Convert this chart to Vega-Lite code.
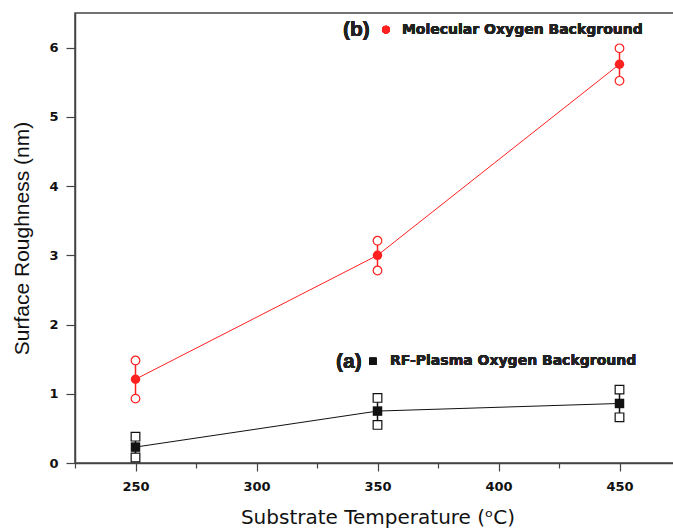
{
  "$schema": "https://vega.github.io/schema/vega-lite/v6.json",
  "width": 605,
  "height": 450,
  "autosize": {"type": "none"},
  "padding": {"left": 75, "top": 13, "right": 0, "bottom": 66},
  "background": "white",
  "config": {
    "view": {"stroke": "#444", "strokeWidth": 1.5},
    "axis": {
      "grid": false,
      "domainColor": "#444",
      "domainWidth": 1.5,
      "tickColor": "#444",
      "tickWidth": 1.2,
      "labelColor": "#111",
      "labelFont": "DejaVu Sans",
      "labelFontWeight": "bold",
      "labelFontSize": 13,
      "labelOverlap": false,
      "labelFlush": false,
      "titleColor": "#111",
      "titleFontWeight": "normal"
    }
  },
  "data": {
    "values": [
      {"series": "Molecular", "T": 250, "mean": 1.21, "lo": 0.93, "hi": 1.48},
      {"series": "Molecular", "T": 350, "mean": 3.0, "lo": 2.78, "hi": 3.21},
      {"series": "Molecular", "T": 450, "mean": 5.76, "lo": 5.52, "hi": 5.99},
      {"series": "RF", "T": 250, "mean": 0.23, "lo": 0.08, "hi": 0.38},
      {"series": "RF", "T": 350, "mean": 0.75, "lo": 0.55, "hi": 0.94},
      {"series": "RF", "T": 450, "mean": 0.86, "lo": 0.66, "hi": 1.06}
    ]
  },
  "encoding": {
    "x": {
      "field": "T",
      "type": "quantitative",
      "scale": {"domain": [225, 475], "nice": false, "zero": false},
      "axis": {
        "values": [225, 250, 275, 300, 325, 350, 375, 400, 425, 450, 475],
        "labelExpr": "datum.value % 50 === 0 ? format(datum.value, 'd') : ''",
        "tickSize": {"condition": {"test": "datum.value % 50 === 0", "value": 8}, "value": 5},
        "labelPadding": 9,
        "title": "Substrate Temperature (ᵒC)",
        "titleFont": "DejaVu Sans",
        "titleFontSize": 20,
        "titlePadding": 14
      }
    },
    "color": {
      "field": "series",
      "type": "nominal",
      "scale": {"domain": ["Molecular", "RF"], "range": ["#ff2020", "#111111"]},
      "legend": null
    },
    "shape": {
      "field": "series",
      "type": "nominal",
      "scale": {"domain": ["Molecular", "RF"], "range": ["circle", "square"]},
      "legend": null
    }
  },
  "layer": [
    {
      "mark": {"type": "rule", "strokeWidth": 1.5},
      "encoding": {
        "y": {
          "field": "lo",
          "type": "quantitative",
          "scale": {"domain": [0, 6.5], "nice": false},
          "axis": {
            "values": [0, 0.5, 1, 1.5, 2, 2.5, 3, 3.5, 4, 4.5, 5, 5.5, 6, 6.5],
            "labelExpr": "datum.value % 1 === 0 ? format(datum.value, 'd') : ''",
            "tickSize": {"condition": {"test": "datum.value % 1 === 0", "value": 9}, "value": 6},
            "labelPadding": 8,
            "title": "Surface Roughness (nm)",
            "titleFont": "Liberation Sans",
            "titleFontSize": 21,
            "titlePadding": 16
          }
        },
        "y2": {"field": "hi"}
      }
    },
    {
      "mark": {"type": "line", "strokeWidth": 1},
      "encoding": {"y": {"field": "mean", "type": "quantitative"}}
    },
    {
      "mark": {"type": "point", "filled": false, "fill": "white", "size": 75, "strokeWidth": 1.2, "opacity": 1},
      "encoding": {"y": {"field": "lo", "type": "quantitative"}}
    },
    {
      "mark": {"type": "point", "filled": false, "fill": "white", "size": 75, "strokeWidth": 1.2, "opacity": 1},
      "encoding": {"y": {"field": "hi", "type": "quantitative"}}
    },
    {
      "mark": {"type": "point", "filled": true, "size": 90, "opacity": 1},
      "encoding": {"y": {"field": "mean", "type": "quantitative"}}
    },
    {
      "mark": {"type": "text", "text": "(b)", "align": "left", "baseline": "middle", "font": "Liberation Sans", "fontWeight": "bold", "fontSize": 21},
      "encoding": {"x": {"datum": 335.7}, "y": {"datum": 6.25}, "color": {"value": "#222"}, "shape": {"value": "circle"}}
    },
    {
      "mark": {"type": "point", "filled": true, "size": 60, "opacity": 1},
      "encoding": {"x": {"datum": 353.5}, "y": {"datum": 6.26}, "color": {"value": "#ff2020"}, "shape": {"value": "circle"}}
    },
    {
      "mark": {"type": "text", "text": "Molecular Oxygen Background", "align": "left", "baseline": "middle", "font": "DejaVu Sans", "fontWeight": "bold", "fontSize": 14},
      "encoding": {"x": {"datum": 360.1}, "y": {"datum": 6.26}, "color": {"value": "#222"}, "shape": {"value": "circle"}}
    },
    {
      "mark": {"type": "text", "text": "(a)", "align": "left", "baseline": "middle", "font": "Liberation Sans", "fontWeight": "bold", "fontSize": 21},
      "encoding": {"x": {"datum": 332.9}, "y": {"datum": 1.46}, "color": {"value": "#222"}, "shape": {"value": "circle"}}
    },
    {
      "mark": {"type": "point", "filled": true, "size": 50, "opacity": 1},
      "encoding": {"x": {"datum": 348.1}, "y": {"datum": 1.47}, "color": {"value": "#111"}, "shape": {"value": "square"}}
    },
    {
      "mark": {"type": "text", "text": "RF-Plasma Oxygen Background", "align": "left", "baseline": "middle", "font": "DejaVu Sans", "fontWeight": "bold", "fontSize": 14},
      "encoding": {"x": {"datum": 355.2}, "y": {"datum": 1.47}, "color": {"value": "#222"}, "shape": {"value": "circle"}}
    }
  ]
}
